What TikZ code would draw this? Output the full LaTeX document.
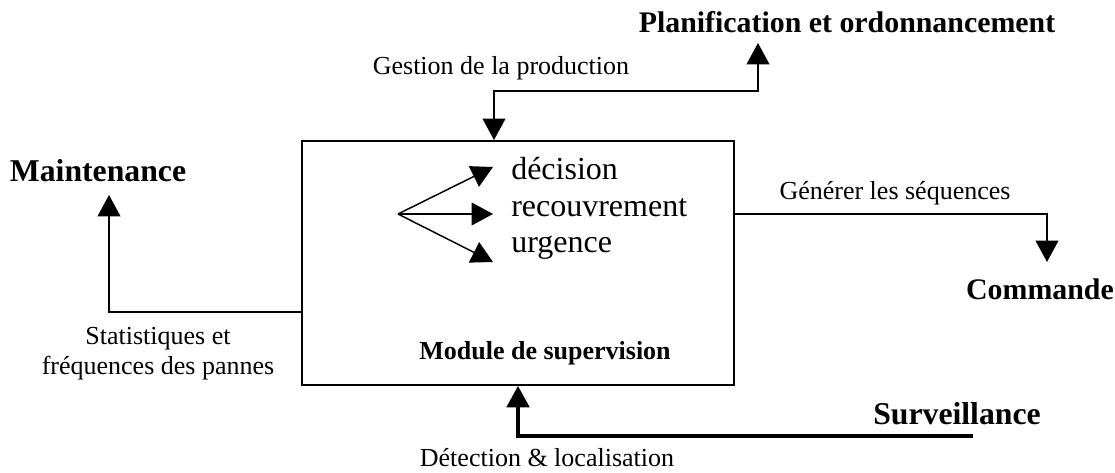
\documentclass[tikz,border=0pt]{standalone}
\usepackage{fontspec}
\setmainfont{Liberation Serif}
\usetikzlibrary{arrows.meta,calc,positioning}

\begin{document}
\begin{tikzpicture}[x=0.75pt,y=0.75pt,yscale=-1,xscale=1,
  conn/.style={line width=1.3pt,-{Triangle[length=16pt,width=17pt]}},
  bigtxt/.style={font=\fontsize{22.4}{26}\selectfont\bfseries,inner sep=0pt,anchor=base},
  smalltxt/.style={font=\fontsize{19.5}{22.5}\selectfont,inner sep=0pt,anchor=base},
  listtxt/.style={font=\fontsize{24}{28}\selectfont,inner sep=0pt,anchor=base west}]
  \useasboundingbox (0,0) rectangle (1115,473);

    %Shape: Rectangle
    \node (sup) [draw,line width=1.5pt,minimum width=324pt,minimum height=183pt,inner sep=0pt] at (518,263) {};

    % Text Node
    \node (plan) [bigtxt] at (847,33) {Planification et ordonnancement};
    \node (maint) [bigtxt,font=\fontsize{23.8}{27}\selectfont\bfseries] at (98,182) {Maintenance};
    \node (cmd) [bigtxt] at (1040,300) {Commande};
    \node (surv) [bigtxt,font=\fontsize{23.8}{27}\selectfont\bfseries] at (957,425) {Surveillance};
    \node (modsup) [smalltxt,font=\fontsize{19.5}{22.5}\selectfont\bfseries] at (545,360) {Module de supervision};
    % Text Node
    \node (gest) [smalltxt] at (501,75) {Gestion de la production};
    \node (gen) [smalltxt] at (895,200) {Générer les séquences};
    \node (det) [smalltxt] at (547,467) {Détection \& localisation};
    \node (stat) [smalltxt,anchor=north,align=center] at (158,327) {Statistiques et\\fréquences des pannes};
    % Text Node
    \node (dec) [listtxt] at (511,180) {décision};
    \node (rec) [listtxt] at (511,217) {recouvrement};
    \node (urg) [listtxt] at (511,253) {urgence};

    \coordinate (fork) at (398,214);
    \foreach \n/\ty in {1/167,2/214,3/262} \coordinate (tip\n) at (493,\ty);
    \foreach \n in {1,2,3} \draw [conn,line width=1.1pt] (fork) -- (tip\n);

    \coordinate (planin) at (758,43);
    \draw [conn,{Triangle[length=16pt,width=17pt]}-{Triangle[length=16pt,width=17pt]}] ($(sup.north)+(-24,0)$) -- ++(0,-49) -| (planin);
    \coordinate (cmdin) at (1047,262);
    \draw [conn] ($(sup.east)+(0,-49)$) -| (cmdin);
    \coordinate (maintin) at (109,195);
    \draw [conn] ($(sup.west)+(0,49)$) -| (maintin);
    \coordinate (survout) at (973,436);
    \draw [conn,line width=2.3pt] (survout) -| (sup.south);

  \end{tikzpicture}
\end{document}
